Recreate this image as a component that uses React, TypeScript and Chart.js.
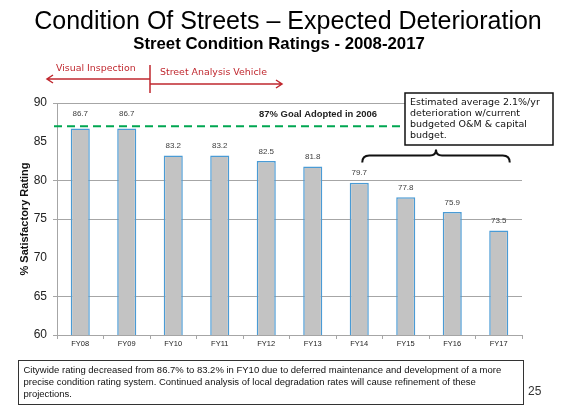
import React, { useEffect, useRef } from 'react';
import { Chart, registerables } from 'chart.js';

Chart.register(...registerables);

const categories = ['FY08', 'FY09', 'FY10', 'FY11', 'FY12', 'FY13', 'FY14', 'FY15', 'FY16', 'FY17'];
const ratings = [86.7, 86.7, 83.2, 83.2, 82.5, 81.8, 79.7, 77.8, 75.9, 73.5];
const goalValue = 87;
const yMin = 60;
const yMax = 90;
const yStep = 5;
const hiddenGridValues = [70, 85];

const titleText = 'Condition Of Streets \u2013 Expected Deterioration';
const subtitleText = 'Street Condition Ratings - 2008-2017';
const yAxisTitle = '% Satisfactory Rating';
const goalLabel = '87% Goal Adopted in 2006';
const leftArrowLabel = 'Visual Inspection';
const rightArrowLabel = 'Street Analysis Vehicle';
const calloutLines = [
  'Estimated average 2.1%/yr',
  'deterioration w/current',
  'budgeted O&M & capital',
  'budget.',
];
const footnoteLines = [
  'Citywide rating decreased from 86.7% to 83.2% in FY10 due to deferred maintenance and development of a more',
  'precise condition rating system. Continued analysis of local degradation rates will cause refinement of these',
  'projections.',
];
const pageNumber = '25';
const projectionStart = 'FY14';
const projectionEnd = 'FY17';

const ARIAL = '"Liberation Sans", Arial, sans-serif';
const VERDANA = '"DejaVu Sans", Verdana, sans-serif';
const RED = '#C0282F';

function fitSize(ctx: CanvasRenderingContext2D, text: string, width: number, weight: string, family: string) {
  ctx.font = `${weight} 20px ${family}`;
  const w = ctx.measureText(text).width;
  return (20 * width) / w;
}

const overlay = {
  id: 'overlay',
  afterDraw(chart: any) {
    const { ctx, chartArea, scales } = chart;
    const x = scales.x;
    const y = scales.y;
    ctx.save();

    // goal line
    const gy = y.getPixelForValue(goalValue);
    ctx.strokeStyle = '#00A651';
    ctx.lineWidth = 2;
    ctx.setLineDash([8, 5]);
    ctx.beginPath();
    ctx.moveTo(chartArea.left - 3, gy);
    ctx.lineTo(chartArea.right, gy);
    ctx.stroke();
    ctx.setLineDash([]);

    // goal label
    let s = fitSize(ctx, goalLabel, 118, 'bold', ARIAL);
    ctx.font = `bold ${s}px ${ARIAL}`;
    ctx.fillStyle = '#222';
    ctx.textAlign = 'center';
    ctx.textBaseline = 'middle';
    ctx.fillText(goalLabel, 318, gy - 12);

    // value labels
    const meta = chart.getDatasetMeta(0);
    ctx.font = `8px ${ARIAL}`;
    ctx.fillStyle = '#404040';
    meta.data.forEach((el: any, i: number) => {
      const ly = el.y - gy < 12 ? gy - 12 : el.y - 9.5;
      ctx.fillText(ratings[i].toFixed(1), el.x, ly);
    });

    // callout box
    ctx.fillStyle = '#fff';
    ctx.fillRect(405, 93, 148, 52);
    ctx.strokeStyle = '#111';
    ctx.lineWidth = 1.5;
    ctx.strokeRect(405, 93, 148, 52);
    s = fitSize(ctx, calloutLines[0], 130, 'normal', VERDANA);
    ctx.font = `${s}px ${VERDANA}`;
    ctx.fillStyle = '#111';
    ctx.textAlign = 'left';
    calloutLines.forEach((line, i) => ctx.fillText(line, 410, 103 + i * 11));

    // brace
    const bx1 = x.getPixelForValue(categories.indexOf(projectionStart)) + 3;
    const bx2 = x.getPixelForValue(categories.indexOf(projectionEnd)) + 11;
    const bm = (bx1 + bx2) / 2;
    const by = 155.5;
    ctx.strokeStyle = '#111';
    ctx.lineWidth = 2;
    ctx.beginPath();
    ctx.moveTo(bx1, by + 7);
    ctx.quadraticCurveTo(bx1, by, bx1 + 7, by);
    ctx.lineTo(bm - 6, by);
    ctx.quadraticCurveTo(bm, by, bm, by - 6);
    ctx.quadraticCurveTo(bm, by, bm + 6, by);
    ctx.lineTo(bx2 - 7, by);
    ctx.quadraticCurveTo(bx2, by, bx2, by + 7);
    ctx.stroke();

    // titles
    s = fitSize(ctx, titleText, 508, 'normal', ARIAL);
    ctx.font = `${s}px ${ARIAL}`;
    ctx.fillStyle = '#000';
    ctx.textAlign = 'center';
    ctx.fillText(titleText, 288, 22);
    s = fitSize(ctx, subtitleText, 292, 'bold', ARIAL);
    ctx.font = `bold ${s}px ${ARIAL}`;
    ctx.fillText(subtitleText, 279, 44);

    // phase arrows
    const divX = (x.getPixelForValue(1) + x.getPixelForValue(2)) / 2;
    ctx.strokeStyle = RED;
    ctx.lineWidth = 1.5;
    ctx.beginPath();
    ctx.moveTo(divX, 65);
    ctx.lineTo(divX, 93);
    ctx.moveTo(divX, 79);
    ctx.lineTo(47, 79);
    ctx.moveTo(53, 75);
    ctx.lineTo(47, 79);
    ctx.lineTo(53, 83);
    ctx.moveTo(divX, 84);
    ctx.lineTo(282, 84);
    ctx.moveTo(276, 80);
    ctx.lineTo(282, 84);
    ctx.lineTo(276, 88);
    ctx.stroke();
    ctx.fillStyle = RED;
    ctx.textAlign = 'left';
    s = fitSize(ctx, rightArrowLabel, 107, 'normal', VERDANA);
    ctx.font = `${s}px ${VERDANA}`;
    ctx.fillText(leftArrowLabel, 56, 69);
    ctx.fillText(rightArrowLabel, 160, 73);

    // footnote
    ctx.strokeStyle = '#333';
    ctx.lineWidth = 1;
    ctx.strokeRect(18.5, 360.5, 505, 44);
    s = fitSize(ctx, footnoteLines[0], 478, 'normal', ARIAL);
    ctx.font = `${s}px ${ARIAL}`;
    ctx.fillStyle = '#111';
    footnoteLines.forEach((line, i) => ctx.fillText(line, 23.5, 370.5 + i * 11.8));

    ctx.font = `12px ${ARIAL}`;
    ctx.fillStyle = '#333';
    ctx.fillText(pageNumber, 528, 392);

    ctx.restore();
  },
};

export default function App() {
  const ref = useRef<HTMLCanvasElement | null>(null);
  useEffect(() => {
    if (!ref.current) return;
    const chart = new Chart(ref.current, {
      type: 'bar',
      data: {
        labels: categories,
        datasets: [
          {
            data: ratings,
            backgroundColor: '#C3C3C3',
            borderColor: '#4A9BD5',
            borderWidth: 1.5,
            categoryPercentage: 1,
            barPercentage: 0.41,
          },
        ],
      },
      options: {
        responsive: false,
        animation: false,
        devicePixelRatio: 1,
        layout: { padding: { left: 0, right: 43, top: 103, bottom: 55 } },
        plugins: { legend: { display: false }, tooltip: { enabled: false }, title: { display: false } },
        scales: {
          x: {
            grid: {
              display: true,
              drawOnChartArea: false,
              drawTicks: true,
              tickLength: 4,
              color: '#A6A6A6',
              offset: true,
            },
            border: { display: true, color: '#A6A6A6' },
            ticks: { font: { family: ARIAL, size: 7.5 }, color: '#222', padding: 0 },
            afterFit: (sc: any) => {
              sc.height = 20;
            },
          },
          y: {
            min: yMin,
            max: yMax,
            ticks: { stepSize: yStep, font: { family: ARIAL, size: 12 }, color: '#222', padding: 6 },
            grid: {
              color: (c: any) =>
                c.tick && hiddenGridValues.includes(c.tick.value) ? 'rgba(0,0,0,0)' : '#A6A6A6',
              tickLength: 4,
            },
            border: { display: true, color: '#A6A6A6' },
            title: {
              display: true,
              text: yAxisTitle,
              font: { family: ARIAL, size: 11, weight: 'bold' },
              color: '#111',
              padding: { top: 18.4, bottom: 0 },
            },
            afterFit: (sc: any) => {
              sc.width = 57;
            },
          },
        },
      },
      plugins: [overlay],
    } as any);
    return () => chart.destroy();
  }, []);
  return (
    <div style={{ position: 'fixed', left: 0, top: 0, width: 565, height: 410, background: '#fff' }}>
      <canvas ref={ref} width={565} height={410} />
    </div>
  );
}
